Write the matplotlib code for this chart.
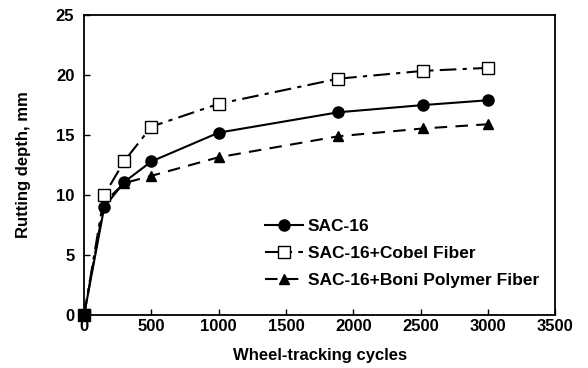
import matplotlib
matplotlib.use("Agg")
import matplotlib.pyplot as plt

cycles_sac = [0, 150, 300, 500, 1000, 1890, 2520, 3000]
sac16 = [0, 9.0, 11.1, 12.8, 15.2, 16.9, 17.5, 17.9]
cycles_cobel = [0, 150, 300, 500, 1000, 1890, 2520, 3000]
cobel = [0, 10.0, 12.85, 15.7, 17.6, 19.7, 20.35, 20.6]
cycles_boni = [0, 150, 300, 500, 1000, 1890, 2520, 3000]
boni = [0, 9.4, 11.0, 11.6, 13.15, 14.9, 15.55, 15.9]

labels = ["SAC-16", "SAC-16+Cobel Fiber", "SAC-16+Boni Polymer Fiber"]
xticks = [0, 500, 1000, 1500, 2000, 2500, 3000, 3500]
yticks = [0, 5, 10, 15, 20, 25]

plt.rcParams['font.family'] = ['Liberation Sans', 'DejaVu Sans']
plt.rcParams['font.weight'] = 'bold'

fig = plt.figure(figsize=(5.88, 3.68), dpi=100)
ax = fig.add_axes([0.143, 0.144, 0.801, 0.815])

ax.plot(cycles_boni, boni, color='black', lw=1.5, ls=(0, (6, 4)),
        marker='^', ms=7, mfc='black', mec='black', label=labels[2], zorder=3)
ax.plot(cycles_sac, sac16, color='black', lw=1.5, ls='-',
        marker='o', ms=8, mfc='black', mec='black', label=labels[0], zorder=4)
ax.plot(cycles_cobel, cobel, color='black', lw=1.5, ls=(0, (8, 3, 2, 3)),
        marker='s', ms=8, mfc='white', mec='black', mew=1.0, label=labels[1], zorder=5)
ax.plot(cycles_cobel[:1], cobel[:1], ls='none', marker='s', ms=9,
        mfc='black', mec='black', zorder=6, clip_on=False)

ax.set_xlim(0, 3500)
ax.set_ylim(0, 25)
ax.set_xticks(xticks)
ax.set_yticks(yticks)
ax.tick_params(axis='both', direction='in', length=4, width=1, labelsize=12,
               top=False, right=False)
ax.tick_params(axis='x', pad=3)
ax.tick_params(axis='y', pad=7)
for lab in ax.get_xticklabels() + ax.get_yticklabels():
    lab.set_fontweight('bold')
for sp in ax.spines.values():
    sp.set_linewidth(1.3)

ax.set_xlabel("Wheel-tracking cycles", fontsize=12, fontweight='bold', labelpad=10)
ax.set_ylabel("Rutting depth, mm", fontsize=12, fontweight='bold', labelpad=18)

h, l = ax.get_legend_handles_labels()
order = [1, 2, 0]
leg = ax.legend([h[i] for i in order], [l[i] for i in order], frameon=False,
                loc='upper left', bbox_to_anchor=(0.37, 0.345),
                handlelength=2.2, fontsize=12.5, labelspacing=0.7,
                handletextpad=0.25, borderaxespad=0)
for t in leg.get_texts():
    t.set_fontweight('bold')

fig.savefig("out.png", dpi=100)
